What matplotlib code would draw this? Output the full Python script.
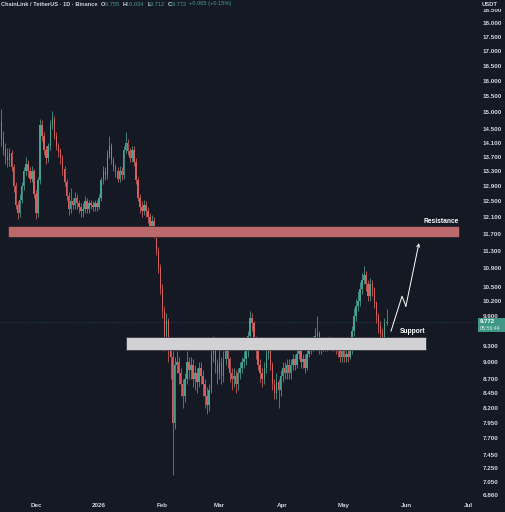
import matplotlib
matplotlib.use("Agg")
import matplotlib.pyplot as plt
import matplotlib.dates as mdates
from matplotlib.patches import Rectangle
import pandas as pd

plt.rcParams["font.family"] = ["Liberation Sans", "DejaVu Sans"]

# ---- data (LINK/USDT daily) ----
first_open = 14.7
closes = [
    14.2, 13.9, 13.7, 13.6, 13.8, 13.4, 12.9, 12.4, 12.2, 12.55,
    12.9, 13.3, 13.5, 13.3, 13.1, 13.3, 12.7, 12.2, 13.05, 14.6,
    14.3, 13.9, 13.65, 14.0, 14.6, 14.8, 14.3, 14.0, 13.85, 13.65,
    13.35, 13.0, 12.65, 12.3, 12.5, 12.4, 12.6, 12.45, 12.35, 12.25,
    12.3, 12.5, 12.3, 12.45, 12.4, 12.35, 12.45, 12.35, 12.6, 13.05,
    13.3, 13.2, 13.75, 14.0, 13.6, 13.4, 13.3, 13.1, 13.3, 13.2,
    13.9, 14.1, 13.85, 13.65, 13.9, 13.55, 13.05, 12.6, 12.35, 12.25,
    12.4, 12.25, 12.1, 11.85, 12.0, 11.75, 11.3, 10.9, 10.45, 10.0,
    9.5, 9.8, 9.3, 9.1, 7.95, 8.95, 9.0, 8.8, 8.6, 8.4,
    8.7, 9.0, 8.85, 8.95, 8.7, 8.8, 8.65, 8.9, 8.75, 8.6,
    8.4, 8.25, 8.5, 9.15, 9.25, 8.95, 8.8, 9.0, 8.75, 9.05,
    9.25, 9.05, 8.8, 8.7, 8.75, 8.6, 8.8, 8.9, 9.0, 9.05,
    9.2, 9.5, 9.85, 9.75, 9.45, 9.2, 8.95, 8.8, 8.7, 8.9,
    9.15, 9.25, 8.95, 8.6, 8.45, 8.65, 8.5, 8.75, 8.9, 8.8,
    8.95, 8.8, 8.95, 9.05, 8.95, 9.15, 9.25, 9.0, 9.05, 8.9,
    9.15, 9.3, 9.25, 9.4, 9.5, 9.55, 9.25, 9.3, 9.35, 9.3,
    9.35, 9.4, 9.3, 9.35, 9.25, 9.2, 9.1, 9.2, 9.1, 9.15,
    9.1, 9.2, 9.6, 9.9, 10.1, 10.2, 10.45, 10.65, 10.75, 10.55,
    10.3, 10.55, 10.45, 10.15, 9.9, 9.7, 9.55, 9.45, 9.755, 9.772,
]
highs = [
    15.1, 14.45, 14.1, 13.95, 13.95, 13.9, 13.5, 13.0, 12.5, 12.7,
    13.0, 13.4, 13.7, 13.6, 13.4, 13.45, 13.35, 12.8, 13.15, 14.8,
    14.75, 14.4, 14.0, 14.1, 14.75, 15.05, 14.9, 14.4, 14.1, 13.95,
    13.75, 13.45, 13.1, 12.75, 12.85, 12.6, 12.75, 12.7, 12.55, 12.45,
    12.45, 12.65, 12.6, 12.55, 12.55, 12.5, 12.55, 12.55, 12.7, 13.15,
    13.45, 13.4, 13.9, 14.3, 14.1, 13.7, 13.5, 13.4, 13.45, 13.4,
    14.0, 14.4, 14.2, 13.95, 14.0, 14.0, 13.65, 13.15, 12.7, 12.5,
    12.55, 12.5, 12.35, 12.2, 12.15, 12.1, 11.85, 11.4, 11.0, 10.55,
    10.1, 9.95, 9.85, 9.45, 9.2, 9.1, 9.2, 9.1, 8.9, 8.7,
    8.8, 9.2, 9.1, 9.1, 9.05, 8.95, 8.9, 9.0, 9.0, 8.85,
    8.7, 8.55, 8.6, 9.45, 9.5, 9.35, 9.05, 9.25, 9.1, 9.2,
    9.45, 9.35, 9.1, 8.9, 8.9, 8.85, 8.9, 9.0, 9.1, 9.2,
    9.35, 9.6, 10.0, 9.95, 9.8, 9.5, 9.3, 9.05, 8.9, 9.0,
    9.3, 9.4, 9.3, 9.0, 8.7, 8.8, 8.7, 8.85, 9.0, 9.0,
    9.05, 9.05, 9.05, 9.15, 9.15, 9.25, 9.4, 9.3, 9.15, 9.15,
    9.25, 9.4, 9.4, 9.5, 9.65, 9.9, 9.6, 9.45, 9.45, 9.45,
    9.45, 9.5, 9.45, 9.45, 9.4, 9.35, 9.3, 9.3, 9.25, 9.25,
    9.25, 9.35, 9.7, 10.05, 10.25, 10.4, 10.6, 10.8, 10.95, 10.85,
    10.65, 10.7, 10.65, 10.5, 10.2, 9.95, 9.8, 9.65, 9.85, 10.034,
]
lows = [
    14.0, 13.75, 13.5, 13.4, 13.45, 13.3, 12.75, 12.3, 12.05, 12.1,
    12.45, 12.8, 13.2, 13.15, 13.0, 13.0, 12.6, 12.05, 12.1, 12.95,
    14.15, 13.75, 13.5, 13.55, 13.9, 14.5, 14.2, 13.9, 13.7, 13.5,
    13.2, 12.9, 12.55, 12.15, 12.2, 12.3, 12.3, 12.3, 12.2, 12.1,
    12.1, 12.2, 12.2, 12.2, 12.3, 12.25, 12.25, 12.25, 12.3, 12.5,
    12.95, 13.05, 13.1, 13.65, 13.5, 13.3, 13.15, 13.0, 13.0, 13.05,
    13.1, 13.8, 13.75, 13.55, 13.55, 13.45, 12.95, 12.5, 12.2, 12.1,
    12.15, 12.1, 11.95, 11.7, 11.65, 11.6, 11.2, 10.8, 10.35, 9.85,
    9.2, 9.4, 9.0, 8.7, 7.15, 7.85, 8.8, 8.6, 8.4, 8.2,
    8.3, 8.6, 8.7, 8.7, 8.55, 8.5, 8.45, 8.55, 8.6, 8.4,
    8.2, 8.1, 8.15, 8.45, 9.0, 8.8, 8.6, 8.7, 8.6, 8.65,
    8.95, 8.9, 8.65, 8.5, 8.55, 8.45, 8.5, 8.7, 8.8, 8.9,
    8.95, 9.1, 9.4, 9.6, 9.3, 9.05, 8.85, 8.65, 8.55, 8.6,
    8.8, 9.05, 8.85, 8.5, 8.35, 8.35, 8.2, 8.4, 8.65, 8.7,
    8.7, 8.7, 8.7, 8.85, 8.85, 8.9, 9.05, 8.9, 8.9, 8.8,
    8.85, 9.1, 9.15, 9.2, 9.3, 9.4, 9.15, 9.15, 9.2, 9.2,
    9.2, 9.25, 9.2, 9.2, 9.15, 9.1, 9.0, 9.0, 9.0, 9.0,
    9.0, 9.05, 9.15, 9.5, 9.8, 10.0, 10.1, 10.35, 10.55, 10.4,
    10.2, 10.2, 10.3, 10.05, 9.75, 9.55, 9.4, 9.3, 9.35, 9.712,
]
start_date = "2025-11-14"

resistance = (11.62, 11.89)
support = (9.23, 9.47)
last_price = 9.772

# 9.600 sits under the last-price tag in the original, so it is left out
price_ticks = [18.5, 18.0, 17.5, 17.0, 16.5, 16.0, 15.5, 15.0, 14.5, 14.1, 13.7,
               13.3, 12.9, 12.5, 12.1, 11.7, 11.3, 10.9, 10.5, 10.2, 9.9,
               9.3, 9.0, 8.7, 8.45, 8.2, 7.95, 7.7, 7.45, 7.25, 7.05, 6.86]
month_ticks = ["2025-12-01", "2026-01-01", "2026-02-01", "2026-03-01",
               "2026-04-01", "2026-05-01", "2026-06-01", "2026-07-01"]
month_labels = ["Dec", "2026", "Feb", "Mar", "Apr", "May", "Jun", "Jul"]

# projected path (days after Dec 1, price)
path_days = [174.2, 179.6, 181.5, 187.9]
path_px = [9.59, 10.30, 10.09, 11.48]

header = [("ChainLink / TetherUS · 1D · Binance  ", "txt"),
          ("O", "txt"), ("9.755  ", "up"), ("H", "txt"), ("10.034  ", "up"),
          ("L", "txt"), ("9.712  ", "up"), ("C", "txt"), ("9.772  ", "up"),
          ("+0.065 (+0.15%)", "up")]

BG = "#151924"
UP = "#48a090"
DOWN = "#d55f5f"
TXT = "#d1d4dc"

opens = [first_open] + closes[:-1]
dates = pd.date_range(start_date, periods=len(closes), freq="D")
x = mdates.date2num(dates)
dec1 = mdates.date2num(pd.Timestamp("2025-12-01"))

fig = plt.figure(figsize=(5.06, 5.12), dpi=100, facecolor=BG)
ax = fig.add_axes([0, 12 / 512, 476 / 506, 500 / 512])
ax.set_facecolor(BG)
ax.set_yscale("log")

cols = [UP if c >= o else DOWN for o, c in zip(opens, closes)]
ax.vlines(x, lows, highs, colors=cols, lw=0.55, zorder=2)
bottoms = [min(o, c) for o, c in zip(opens, closes)]
heights = [max(abs(c - o), 0.025) for o, c in zip(opens, closes)]
ax.bar(x, heights, bottom=bottoms, width=0.72, color=cols, lw=0, zorder=3)

# zones
ax.add_patch(Rectangle((dec1 - 13.7, resistance[0]), 221.2, resistance[1] - resistance[0],
                       facecolor="#bb6a6c", edgecolor="#2a1d22", lw=0.5, zorder=4))
ax.add_patch(Rectangle((dec1 + 44.2, support[0]), 147.2, support[1] - support[0],
                       facecolor="#d2d2d4", edgecolor="#2a2a30", lw=0.5, zorder=4))
ax.text(dec1 + 207.3, 12.0, "Resistance", color="white", fontsize=4.8,
        fontweight="bold", ha="right", va="center", zorder=6)
ax.text(dec1 + 191.2, 9.59, "Support", color="white", fontsize=4.8,
        fontweight="bold", ha="right", va="center", zorder=6)

# projected move
px_x = [dec1 + d for d in path_days]
ax.plot(px_x[:3], path_px[:3], color="white", lw=0.7, zorder=6)
ax.annotate("", xy=(px_x[3], path_px[3]), xytext=(px_x[2], path_px[2]),
            arrowprops=dict(arrowstyle="->", color="white", lw=0.7,
                            shrinkA=0, shrinkB=0, mutation_scale=5), zorder=6)

# last price line
ax.axhline(last_price, color="#3f8f80", lw=0.5, ls=(0, (1, 2)), alpha=0.6, zorder=1)

ax.set_xlim(dec1 - 17.66, dec1 + 215.9)
ax.set_ylim(6.79, 18.87)

ax.yaxis.tick_right()
ax.set_yticks(price_ticks)
ax.set_yticklabels([f"{v:.3f}" for v in price_ticks])
ax.yaxis.set_minor_locator(matplotlib.ticker.NullLocator())
ax.set_xticks([mdates.date2num(pd.Timestamp(d)) for d in month_ticks])
ax.set_xticklabels(month_labels)
ax.tick_params(axis="both", length=0, colors=TXT, labelsize=4.5)
ax.tick_params(axis="y", pad=5)
ax.tick_params(axis="x", pad=2.5)
for lab in ax.get_xticklabels() + ax.get_yticklabels():
    lab.set_fontweight("bold")
for s in ax.spines.values():
    s.set_visible(False)

# price scale header + last price label
fig.patches.append(Rectangle((476 / 506, 503 / 512), 30 / 506, 9 / 512, transform=fig.transFigure,
                             facecolor=BG, edgecolor="none", zorder=10))
fig.text(490 / 506, 1 - 4 / 512, "USDT", color=TXT, fontsize=4.2, fontweight="bold",
         ha="center", va="center", zorder=11)
fig.patches.append(Rectangle((478 / 506, 1 - 332 / 512), 28 / 506, 14 / 512, transform=fig.transFigure,
                             facecolor="#3f9886", edgecolor="none", zorder=10))
fig.text(480 / 506, 1 - 321.5 / 512, f"{last_price:.3f}", color="white", fontsize=4.3,
         fontweight="bold", ha="left", va="center", zorder=11)
fig.text(480 / 506, 1 - 328.5 / 512, "05:56:44", color="#d8efe9", fontsize=3.8,
         ha="left", va="center", zorder=11)

# legend line, pieces chained left to right
renderer = fig.canvas.get_renderer()
hx = 1 / 506
for s, kind in header:
    t = fig.text(hx, 1 - 4 / 512, s, color=UP if kind == "up" else TXT, fontsize=4.1,
                 fontweight="bold" if kind == "txt" else "normal", ha="left", va="center")
    bb = t.get_window_extent(renderer)
    hx += bb.width / fig.bbox.width

fig.savefig("out.png", dpi=100, facecolor=BG)
